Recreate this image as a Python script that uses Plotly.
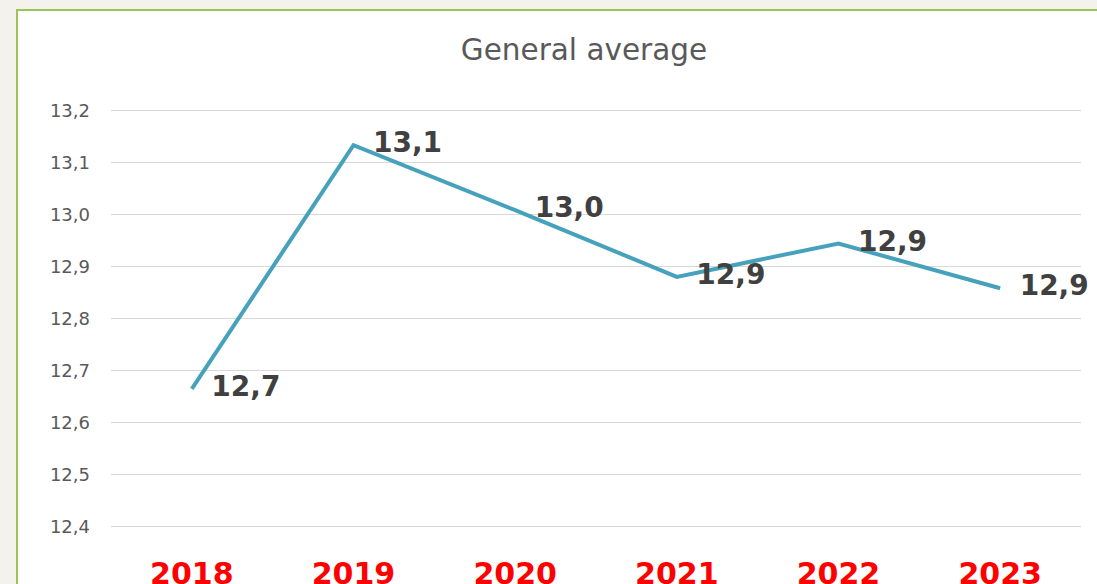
import plotly.graph_objects as go

# data
years = ["2018", "2019", "2020", "2021", "2022", "2023"]
averages = [12.665, 13.133, 13.008, 12.88, 12.944, 12.858]
labels = ["12,7", "13,1", "13,0", "12,9", "12,9", "12,9"]

fig = go.Figure()

fig.add_trace(go.Scatter(
    x=years, y=averages, mode="lines+text",
    line=dict(color="#46a2bc", width=4),
    text=["  " + t for t in labels], textposition="middle right",
    textfont=dict(family="DejaVu Sans", size=28, color="#404040", weight="bold"),
    cliponaxis=False, hoverinfo="skip", showlegend=False,
))

# white chart card with green border on beige page
fig.add_shape(type="rect", xref="paper", yref="paper",
              x0=-0.0969, x1=1.2, y0=-0.5, y1=1.2225,
              fillcolor="white", line=dict(color="#9bc35a", width=2), layer="below")

fig.update_layout(
    width=1097, height=584,
    margin=dict(l=111, r=16, t=105, b=52),
    paper_bgcolor="#f3f2ed", plot_bgcolor="white",
    separators=", ",
    title=dict(text="General average", x=584 / 1097, xanchor="center", y=1 - 50 / 584, yanchor="middle",
               font=dict(family="DejaVu Sans", size=29.5, color="#595959")),
    xaxis=dict(type="category", range=[-0.5, 5.5], showgrid=False, showline=False, zeroline=False,
               ticks="", ticklabelstandoff=21, automargin=False,
               tickfont=dict(family="DejaVu Sans", size=30, color="#ff0000", weight="bold")),
    yaxis=dict(range=[12.39, 13.21], tickvals=[12.4, 12.5, 12.6, 12.7, 12.8, 12.9, 13.0, 13.1, 13.2],
               tickformat=".1f", showgrid=True, automargin=False,
               gridcolor="#d9d9d9", gridwidth=1, zeroline=False, showline=False, ticks="",
               ticklabelstandoff=20,
               tickfont=dict(family="DejaVu Sans", size=18, color="#595959")),
)

fig.write_html("out.html", config={"displayModeBar": False},
               post_script="document.body.style.margin='0';document.body.style.overflow='hidden';"
                           "document.body.style.background='#f3f2ed';")
